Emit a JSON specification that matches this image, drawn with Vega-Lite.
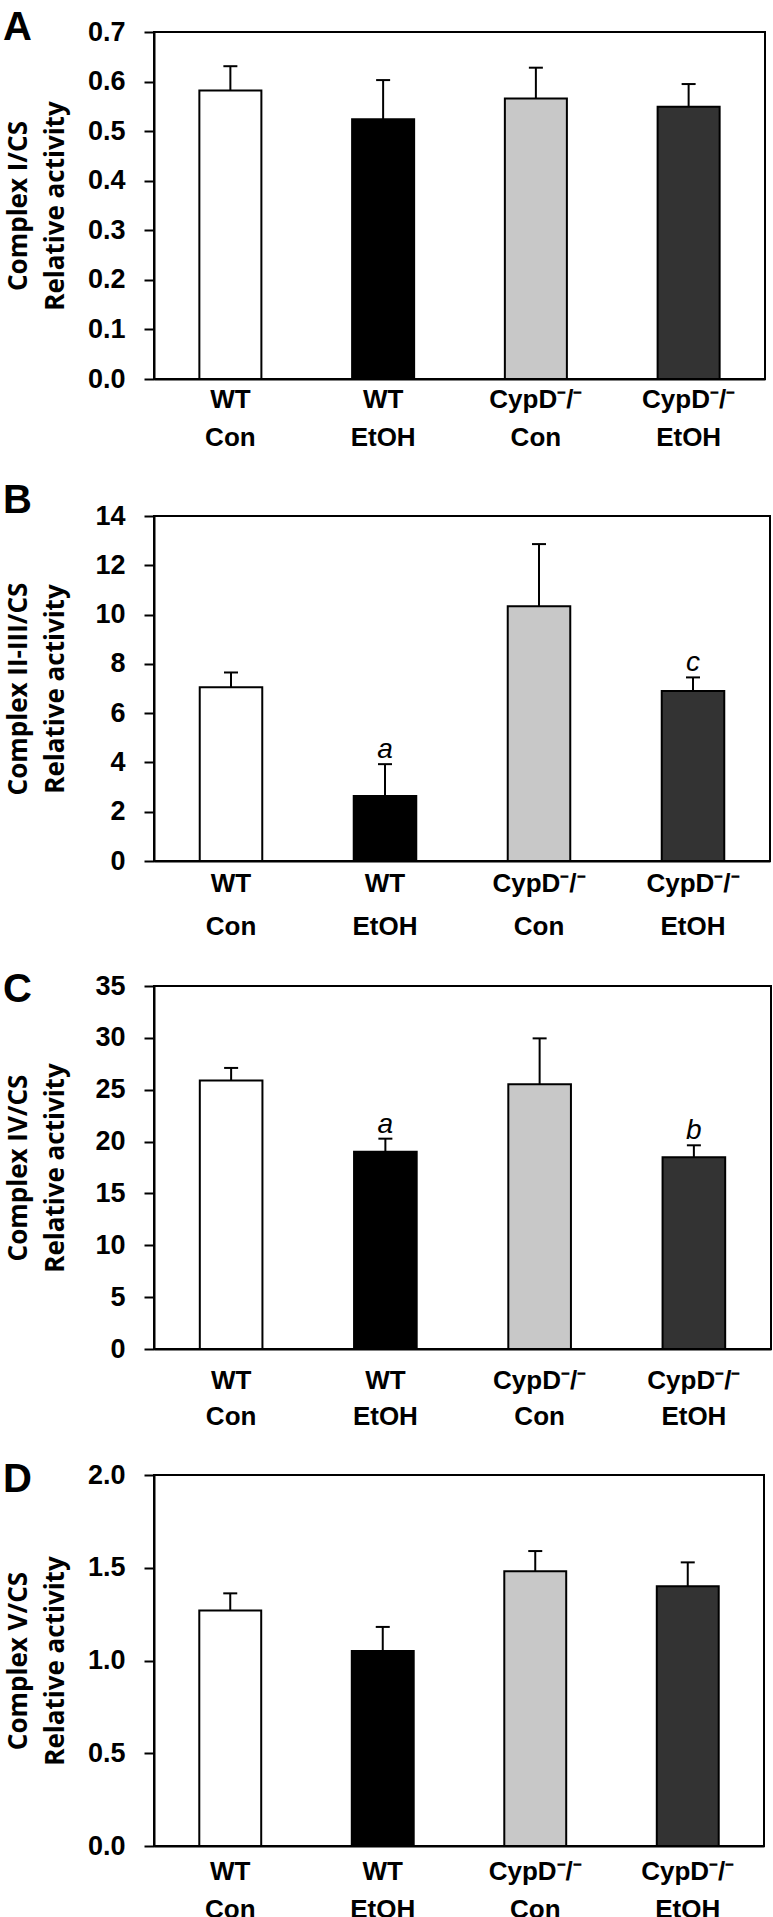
{
  "$schema": "https://vega.github.io/schema/vega-lite/v6.json",
  "background": "white",
  "padding": {"left": 2, "top": 7, "right": 0, "bottom": 0},
  "spacing": 29,
  "config": {
    "view": {"stroke": "black", "strokeWidth": 2},
    "axis": {"grid": false, "domainColor": "black", "domainWidth": 2, "tickColor": "black", "tickWidth": 2, "labelColor": "black", "titleColor": "black"},
    "axisX": {"ticks": false, "tickSize": 0, "domain": true, "title": null, "labelAngle": 0, "labelFont": "Liberation Sans", "labelFontSize": 26, "labelFontWeight": "bold", "labelLineHeight": 38, "labelPadding": 7, "labelExpr": "split(datum.label, '|')"},
    "axisY": {"tickSize": 10, "labelFont": "Liberation Sans", "labelFontSize": 27, "labelFontWeight": "bold", "labelPadding": 19, "titleFont": "Open Sans", "titleFontSize": 26, "titleFontWeight": "bold", "titleLineHeight": 37, "titlePadding": 19, "minExtent": 67, "maxExtent": 67},
    "title": {"anchor": "start", "frame": "bounds", "font": "Liberation Sans", "fontSize": 40, "fontWeight": "bold", "color": "black", "offset": 0}
  },
  "datasets": {
    "A": [
      {"group": "WT|Con", "mean": 0.582, "upper": 0.631, "sig": ""},
      {"group": "WT|EtOH", "mean": 0.524, "upper": 0.603, "sig": ""},
      {"group": "CypD⁻/⁻|Con", "mean": 0.566, "upper": 0.628, "sig": ""},
      {"group": "CypD⁻/⁻|EtOH", "mean": 0.549, "upper": 0.595, "sig": ""}
    ],
    "B": [
      {"group": "WT|Con", "mean": 7.05, "upper": 7.65, "sig": ""},
      {"group": "WT|EtOH", "mean": 2.64, "upper": 3.93, "sig": "a"},
      {"group": "CypD⁻/⁻|Con", "mean": 10.34, "upper": 12.86, "sig": ""},
      {"group": "CypD⁻/⁻|EtOH", "mean": 6.9, "upper": 7.45, "sig": "c"}
    ],
    "C": [
      {"group": "WT|Con", "mean": 25.9, "upper": 27.1, "sig": ""},
      {"group": "WT|EtOH", "mean": 19.03, "upper": 20.28, "sig": "a"},
      {"group": "CypD⁻/⁻|Con", "mean": 25.52, "upper": 29.95, "sig": ""},
      {"group": "CypD⁻/⁻|EtOH", "mean": 18.5, "upper": 19.64, "sig": "b"}
    ],
    "D": [
      {"group": "WT|Con", "mean": 1.27, "upper": 1.362, "sig": ""},
      {"group": "WT|EtOH", "mean": 1.051, "upper": 1.181, "sig": ""},
      {"group": "CypD⁻/⁻|Con", "mean": 1.481, "upper": 1.59, "sig": ""},
      {"group": "CypD⁻/⁻|EtOH", "mean": 1.4, "upper": 1.529, "sig": ""}
    ]
  },
  "vconcat": [
    {
      "title": {"text": "A", "dy": 34, "dx": -2},
      "width": 611, "height": 347,
      "data": {"name": "A"},
      "encoding": {
        "x": {"field": "group", "type": "nominal", "sort": null, "scale": {"paddingInner": 0.594, "paddingOuter": 0.297}}
      },
      "layer": [
        {"mark": {"type": "bar", "stroke": "black", "strokeWidth": 2},
         "encoding": {
           "y": {"field": "mean", "type": "quantitative", "scale": {"domain": [0, 0.7]}, "axis": {"values": [0, 0.1, 0.2, 0.3, 0.4, 0.5, 0.6, 0.7], "format": ".1f", "title": ["Complex I/CS", "Relative activity"]}},
           "fill": {"field": "group", "type": "nominal", "sort": null, "scale": {"range": ["#ffffff", "#000000", "#c8c8c8", "#333333"]}, "legend": null}
         }},
        {"mark": {"type": "rule", "color": "black", "strokeWidth": 2}, "encoding": {"y": {"field": "mean", "type": "quantitative"}, "y2": {"field": "upper"}}},
        {"mark": {"type": "tick", "orient": "horizontal", "color": "black", "size": 14, "thickness": 2, "opacity": 1}, "encoding": {"y": {"field": "upper", "type": "quantitative"}}}
      ]
    },
    {
      "title": {"text": "B", "dy": 23, "dx": -2},
      "width": 616, "height": 345,
      "data": {"name": "B"},
      "encoding": {
        "x": {"field": "group", "type": "nominal", "sort": null, "scale": {"paddingInner": 0.594, "paddingOuter": 0.297}, "axis": {"labelPadding": 9, "labelLineHeight": 43}}
      },
      "layer": [
        {"mark": {"type": "bar", "stroke": "black", "strokeWidth": 2},
         "encoding": {
           "y": {"field": "mean", "type": "quantitative", "scale": {"domain": [0, 14]}, "axis": {"values": [0, 2, 4, 6, 8, 10, 12, 14], "title": ["Complex II-III/CS", "Relative activity"]}},
           "fill": {"field": "group", "type": "nominal", "sort": null, "scale": {"range": ["#ffffff", "#000000", "#c8c8c8", "#333333"]}, "legend": null}
         }},
        {"mark": {"type": "rule", "color": "black", "strokeWidth": 2}, "encoding": {"y": {"field": "mean", "type": "quantitative"}, "y2": {"field": "upper"}}},
        {"mark": {"type": "tick", "orient": "horizontal", "color": "black", "size": 14, "thickness": 2, "opacity": 1}, "encoding": {"y": {"field": "upper", "type": "quantitative"}}},
        {"mark": {"type": "text", "font": "Liberation Sans", "fontSize": 28, "fontStyle": "italic", "baseline": "alphabetic", "dy": -6, "color": "black"}, "encoding": {"y": {"field": "upper", "type": "quantitative"}, "text": {"field": "sig"}}}
      ]
    },
    {
      "title": {"text": "C", "dy": 42, "dx": -2},
      "width": 617, "height": 363,
      "data": {"name": "C"},
      "encoding": {
        "x": {"field": "group", "type": "nominal", "sort": null, "scale": {"paddingInner": 0.594, "paddingOuter": 0.297}, "axis": {"labelPadding": 18, "labelLineHeight": 36}}
      },
      "layer": [
        {"mark": {"type": "bar", "stroke": "black", "strokeWidth": 2},
         "encoding": {
           "y": {"field": "mean", "type": "quantitative", "scale": {"domain": [0, 35]}, "axis": {"values": [0, 5, 10, 15, 20, 25, 30, 35], "title": ["Complex IV/CS", "Relative activity"]}},
           "fill": {"field": "group", "type": "nominal", "sort": null, "scale": {"range": ["#ffffff", "#000000", "#c8c8c8", "#333333"]}, "legend": null}
         }},
        {"mark": {"type": "rule", "color": "black", "strokeWidth": 2}, "encoding": {"y": {"field": "mean", "type": "quantitative"}, "y2": {"field": "upper"}}},
        {"mark": {"type": "tick", "orient": "horizontal", "color": "black", "size": 14, "thickness": 2, "opacity": 1}, "encoding": {"y": {"field": "upper", "type": "quantitative"}}},
        {"mark": {"type": "text", "font": "Liberation Sans", "fontSize": 28, "fontStyle": "italic", "baseline": "alphabetic", "dy": -6, "color": "black"}, "encoding": {"y": {"field": "upper", "type": "quantitative"}, "text": {"field": "sig"}}}
      ]
    },
    {
      "title": {"text": "D", "dy": 43, "dx": -2},
      "width": 610, "height": 371,
      "data": {"name": "D"},
      "encoding": {
        "x": {"field": "group", "type": "nominal", "sort": null, "scale": {"paddingInner": 0.594, "paddingOuter": 0.297}, "axis": {"labelPadding": 12, "labelLineHeight": 38}}
      },
      "layer": [
        {"mark": {"type": "bar", "stroke": "black", "strokeWidth": 2},
         "encoding": {
           "y": {"field": "mean", "type": "quantitative", "scale": {"domain": [0, 2]}, "axis": {"values": [0, 0.5, 1, 1.5, 2], "format": ".1f", "title": ["Complex V/CS", "Relative activity"]}},
           "fill": {"field": "group", "type": "nominal", "sort": null, "scale": {"range": ["#ffffff", "#000000", "#c8c8c8", "#333333"]}, "legend": null}
         }},
        {"mark": {"type": "rule", "color": "black", "strokeWidth": 2}, "encoding": {"y": {"field": "mean", "type": "quantitative"}, "y2": {"field": "upper"}}},
        {"mark": {"type": "tick", "orient": "horizontal", "color": "black", "size": 14, "thickness": 2, "opacity": 1}, "encoding": {"y": {"field": "upper", "type": "quantitative"}}}
      ]
    }
  ]
}
